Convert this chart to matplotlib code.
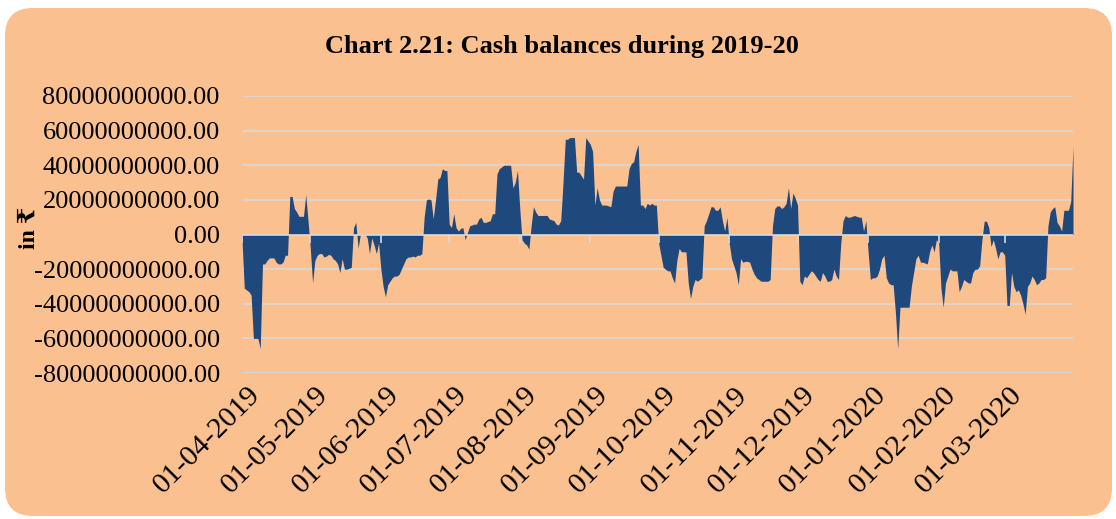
import matplotlib
matplotlib.use("Agg")
import matplotlib.pyplot as plt
import matplotlib.ticker as mticker
import matplotlib.transforms as mtransforms
from matplotlib.patches import FancyBboxPatch
import numpy as np
import pandas as pd

title = "Chart 2.21: Cash balances during 2019-20"
y_label = "in \u20b9"
start_date = "2019-04-01"
end_date = "2020-03-31"

# Daily cash balance, in billions of rupees
apr_2019 = [-3, -31, -32, -33, -35, -60, -60, -60, -66, -17, -17, -15, -13.5, -13.5, -13.5,
            -16, -17, -17, -16, -12, -12, 22, 22, 15, 13, 10.5, 10.5, 10.5, 23, 8]
may_2019 = [-8, -28, -15, -12, -11, -11, -13, -12.5, -11.5, -12, -14, -15, -17, -22, -14,
            -20, -20, -19.5, -19, 4, 7, -8, 0.3, 0.3, 0.3, -2, -11, -2, -6, -11, -5]
jun_2019 = [-20, -30, -36, -29, -27, -25, -24, -24, -23, -20, -17, -14, -13, -13, -12.5,
            -13, -12, -12, -11, 10, 20, 20.5, 20, 9, 20, 32, 33, 38, 37, 37]
jul_2019 = [6, 4, 12, 4, 2, 3.5, 4, -3, 1, 5, 5.5, 6, 6, 9, 10, 7, 7, 7.5, 8, 12, 12,
            35, 38, 39, 40, 40, 40, 40, 27, 30, 37]
aug_2019 = [15, -3, -5, -6, -8.5, 5, 16, 13, 11, 11, 11, 11, 11, 9, 8.5, 8, 6, 5.5, 8,
            30, 55, 55, 56, 56, 56, 36, 36, 34, 32, 56, 54]
sep_2019 = [52, 48, 17, 27, 20, 17, 17, 17, 16.5, 16, 25, 28, 28, 28, 28, 28, 28, 38, 41,
            42, 48, 52, 17, 17, 15, 18, 17, 18, 17, 17]
oct_2019 = [-5, -12, -19, -20, -21, -21, -25, -28, -15, -8, -10, -10, -10, -28, -37, -30,
            -26, -27, -26, -25, 5, 8, 12, 16, 16, 14, 14, 16, 8, 2, 10]
nov_2019 = [-5, -14, -18, -22, -29, -14, -16, -15.5, -15.5, -16, -20, -23, -25, -26, -27,
            -27, -27, -27, -26, 5, 15, 16.5, 16.5, 15, 16, 18, 27, 15, 24, 21]
dec_2019 = [17, -27, -29, -24, -25, -23, -21, -22, -24, -26, -27, -22, -24, -27, -27, -26,
            -20, -24, -26, -5, 8, 11, 10, 10, 10.5, 11, 10.5, 10, 10, 2, 8]
jan_2020 = [-10, -26, -25, -25, -24, -20, -14, -12, -25, -28, -29, -29, -45, -66, -42, -42,
            -42, -42, -42, -30, -22, -14, -12, -16, -16, -16.5, -17, -10, -6, -10, -3]
feb_2020 = [-5, -31, -42, -28, -24, -20, -21, -21, -21, -33, -30, -26, -27, -28, -28, -22,
            -20, -20, -18, -3, 7.7, 7.7, 4, -7, -3, -8, -14, -10, -10]
mar_2020 = [-12, -41, -41, -22, -30, -33, -32, -35, -40, -46, -30, -28, -24, -26, -29, -28,
            -26, -26, -25, 5, 13, 15, 16, 7, 5, 2, 14, 14, 14, 19, 51]

month_labels = ["01-04-2019", "01-05-2019", "01-06-2019", "01-07-2019", "01-08-2019",
                "01-09-2019", "01-10-2019", "01-11-2019", "01-12-2019", "01-01-2020",
                "01-02-2020", "01-03-2020"]
y_ticks = [-80e9, -60e9, -40e9, -20e9, 0, 20e9, 40e9, 60e9, 80e9]

values_bn = (apr_2019 + may_2019 + jun_2019 + jul_2019 + aug_2019 + sep_2019 +
             oct_2019 + nov_2019 + dec_2019 + jan_2020 + feb_2020 + mar_2020)
dates = pd.date_range(start_date, end_date, freq="D")
values = np.array(values_bn, dtype=float) * 1e9
tick_dates = pd.to_datetime(month_labels, format="%d-%m-%Y")

serif = ["Liberation Serif", "DejaVu Serif", "DejaVu Sans"]
plt.rcParams["font.family"] = serif

W, H = 1116, 519
fig = plt.figure(figsize=(W / 100, H / 100), dpi=100)
fig.patch.set_facecolor("white")
bg = FancyBboxPatch((5 / 100, 3 / 100), (W - 9) / 100, (H - 11) / 100,
                    boxstyle="round,pad=0,rounding_size=0.28",
                    transform=fig.dpi_scale_trans, facecolor="#FAC090",
                    edgecolor="none", zorder=0)
fig.add_artist(bg)

ax = fig.add_axes([242 / W, 1 - 373 / H, (1073 - 242) / W, (373 - 96) / H])
ax.set_facecolor("none")
ax.fill_between(dates, values, 0, color="#1F497D", linewidth=0, zorder=2)
ax.set_xlim(dates[0], dates[-1])
ax.set_ylim(y_ticks[0], y_ticks[-1])
ax.set_yticks(y_ticks)
ax.yaxis.set_major_formatter(mticker.FuncFormatter(lambda v, p: f"{v:.2f}"))
ax.grid(axis="y", color="#D9D9D9", linewidth=1.2, zorder=1)
ax.set_axisbelow(True)
for s in ax.spines.values():
    s.set_visible(False)
ax.axhline(0, color="#D9D9D9", linewidth=1.2, zorder=3)
ax.plot(tick_dates, np.zeros(len(tick_dates)), linestyle="none", marker=3,
        markersize=6, markeredgewidth=1.2, color="#D9D9D9", zorder=3)

ax.set_xticks(tick_dates)
ax.set_xticklabels(month_labels, rotation=45, ha="right", va="center",
                   rotation_mode="anchor", fontsize=21.5)
ax.tick_params(axis="x", length=0, pad=13)
ax.tick_params(axis="y", length=0, pad=16, labelsize=19)
offset = mtransforms.ScaledTranslation(14 / 100, 0, fig.dpi_scale_trans)
for lab in ax.get_xticklabels():
    lab.set_transform(lab.get_transform() + offset)

fig.text(562 / W, 1 - 46 / H, title, ha="center", va="center", fontsize=19,
         fontweight="bold")
fig.text(29 / W, 1 - 228 / H, y_label, ha="center", va="center", rotation=90,
         fontsize=17, fontweight="bold", family=serif)

fig.savefig("out.png", dpi=100, facecolor="white")
